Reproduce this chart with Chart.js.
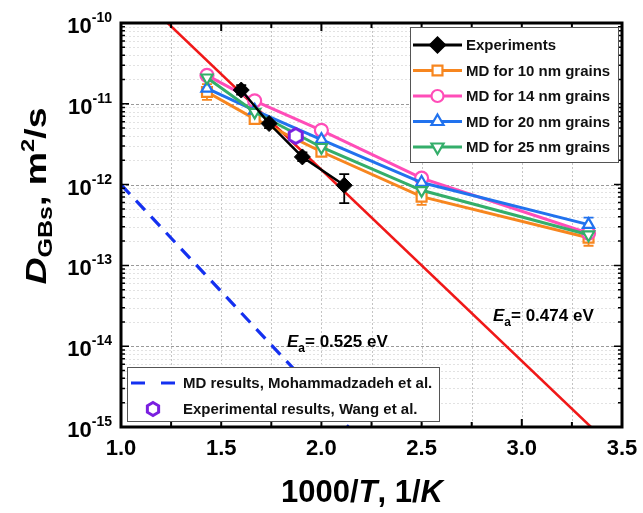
<!DOCTYPE html>
<html>
<head>
<meta charset="utf-8">
<script src="https://cdn.jsdelivr.net/npm/chart.js@4.4.0/dist/chart.umd.min.js"></script>
<style>
html, body { margin: 0; padding: 0; background: #fff; }
</style>
</head>
<body>
<canvas id="chart" width="643" height="513"></canvas>
<script>
// 1000/T values for MD runs (700, 600, 500, 400, 300 K)
const xMD = [1.429, 1.667, 2.0, 2.5, 3.333];
const md10 = [1.4e-11, 6.5e-12, 2.55e-12, 7.1e-13, 2.2e-13];
const md14 = [2.25e-11, 1.09e-11, 4.7e-12, 1.2e-12, 2.5e-13];
const md20 = [1.55e-11, 8.3e-12, 3.6e-12, 1.06e-12, 3.2e-13];
const md25 = [2.1e-11, 7.9e-12, 2.9e-12, 8.5e-13, 2.4e-13];
const md10Err = [[1.12e-11, 1.75e-11], null, null, [5.6e-13, 9.0e-13], [1.75e-13, 2.7e-13]];
const md20Err = [null, null, null, null, [2.6e-13, 3.9e-13]];

// experiments
const xExp = [1.6, 1.739, 1.905, 2.114];
const expD = [1.48e-11, 5.7e-12, 2.2e-12, 9.8e-13];
const expErr = [[1.3e-11, 1.7e-11], [5.0e-12, 6.5e-12], [1.95e-12, 2.5e-12], [5.9e-13, 1.35e-12]];

// Wang et al.
const xWang = [1.872];
const wangD = [4.0e-12];

// Arrhenius fits
const xFit474 = [1.233, 3.345];
const fit474 = [1e-10, 1e-15];
const xFit525 = [1.0, 2.134];
const fit525 = [1e-12, 1e-15];

// axis ticks
const xTickLabels = [1.0, 1.5, 2.0, 2.5, 3.0, 3.5];
const xMinorStep = 0.25;
const yDecades = [-15, -14, -13, -12, -11, -10];

const C_ORANGE = '#F7861F';
const C_PINK = '#FF4DB8';
const C_BLUE = '#2172EE';
const C_GREEN = '#34AE6A';
const C_PURPLE = '#7A1FE0';
const C_RED = '#F01818';
const C_DASH = '#1430F0';

function pts(xs, ys) {
    return xs.map((x, i) => ({ x: x, y: ys[i] }));
}

function hexCanvas(color, r, lw) {
    const c = document.createElement('canvas');
    const s = Math.ceil(2 * r + lw + 2);
    c.width = s; c.height = s;
    const g = c.getContext('2d');
    g.strokeStyle = color;
    g.lineWidth = lw;
    g.fillStyle = '#fff';
    g.beginPath();
    for (let i = 0; i < 6; i++) {
        const a = -Math.PI / 2 + i * Math.PI / 3;
        const px = s / 2 + r * Math.cos(a), py = s / 2 + r * Math.sin(a);
        if (i === 0) g.moveTo(px, py); else g.lineTo(px, py);
    }
    g.closePath();
    g.fill();
    g.stroke();
    return c;
}
const hexIcon = hexCanvas(C_PURPLE, 6.5, 3);
const hexPoint = hexCanvas(C_PURPLE, 7.5, 3);

function mdSet(label, ys, color, style, rot) {
    return {
        label: label,
        data: pts(xMD, ys),
        borderColor: color,
        backgroundColor: '#fff',
        borderWidth: 3,
        pointStyle: style,
        rotation: rot || 0,
        pointRadius: style === 'rect' ? 7 : 6.5,
        pointBorderWidth: 2.2,
        pointBorderColor: color,
        pointBackgroundColor: '#fff'
    };
}

// draw a run of text pieces with own fonts / offsets
function drawRuns(ctx, runs, x, y, align) {
    let w = 0;
    runs.forEach(r => { ctx.font = r.font; w += ctx.measureText(r.t).width; });
    let cx = align === 'center' ? x - w / 2 : (align === 'right' ? x - w : x);
    runs.forEach(r => {
        ctx.font = r.font;
        ctx.fillText(r.t, cx, y + (r.dy || 0));
        cx += ctx.measureText(r.t).width;
    });
    return w;
}

function drawMarker(ctx, style, x, y, r, color, fill) {
    ctx.save();
    ctx.strokeStyle = color;
    ctx.fillStyle = fill;
    ctx.lineWidth = 2.2;
    ctx.setLineDash([]);
    ctx.beginPath();
    if (style === 'rect') {
        const s = r * Math.SQRT1_2;
        ctx.rect(x - s, y - s, 2 * s, 2 * s);
    } else if (style === 'rectRot') {
        ctx.moveTo(x, y - r); ctx.lineTo(x + r, y); ctx.lineTo(x, y + r); ctx.lineTo(x - r, y);
        ctx.closePath();
    } else if (style === 'circle') {
        ctx.arc(x, y, r, 0, Math.PI * 2);
    } else if (style === 'triUp' || style === 'triDown') {
        const k = style === 'triUp' ? 1 : -1;
        ctx.moveTo(x, y - k * r);
        ctx.lineTo(x + r * 0.866, y + k * r * 0.5);
        ctx.lineTo(x - r * 0.866, y + k * r * 0.5);
        ctx.closePath();
    }
    ctx.fill();
    ctx.stroke();
    ctx.restore();
}

const decor = {
    id: 'decor',
    beforeDatasetsDraw(chart) {
        const { ctx, chartArea: a, scales: { x, y } } = chart;
        ctx.save();
        ctx.lineWidth = 1;
        // vertical grid
        ctx.strokeStyle = '#c4c4c4';
        ctx.setLineDash([2, 2]);
        for (let v = 1.0 + xMinorStep; v < 3.5 - 1e-6; v += xMinorStep) {
            const px = Math.round(x.getPixelForValue(v)) + 0.5;
            ctx.beginPath(); ctx.moveTo(px, a.top); ctx.lineTo(px, a.bottom); ctx.stroke();
        }
        // horizontal grid, minor then major
        yDecades.forEach(d => {
            for (let m = 2; m <= 9; m++) {
                if (d === yDecades[yDecades.length - 1]) break;
                const py = Math.round(y.getPixelForValue(m * Math.pow(10, d))) + 0.5;
                ctx.strokeStyle = '#e2e2e2';
                ctx.setLineDash([2, 2]);
                ctx.beginPath(); ctx.moveTo(a.left, py); ctx.lineTo(a.right, py); ctx.stroke();
            }
        });
        yDecades.forEach(d => {
            const py = Math.round(y.getPixelForValue(Math.pow(10, d))) + 0.5;
            ctx.strokeStyle = '#9a9a9a';
            ctx.setLineDash([3, 2]);
            ctx.beginPath(); ctx.moveTo(a.left, py); ctx.lineTo(a.right, py); ctx.stroke();
        });
        ctx.setLineDash([]);

        // error bars
        const bars = [
            [xExp, expErr, '#000'],
            [xMD, md10Err, C_ORANGE],
            [xMD, md20Err, C_BLUE]
        ];
        ctx.lineWidth = 1.8;
        bars.forEach(([xs, errs, col]) => {
            ctx.strokeStyle = col;
            errs.forEach((e, i) => {
                if (!e) return;
                const px = x.getPixelForValue(xs[i]);
                const y0 = y.getPixelForValue(e[0]), y1 = y.getPixelForValue(e[1]);
                ctx.beginPath();
                ctx.moveTo(px, y0); ctx.lineTo(px, y1);
                ctx.moveTo(px - 5, y0); ctx.lineTo(px + 5, y0);
                ctx.moveTo(px - 5, y1); ctx.lineTo(px + 5, y1);
                ctx.stroke();
            });
        });
        ctx.restore();
    },
    afterDraw(chart) {
        const { ctx, chartArea: a, scales: { x, y } } = chart;
        ctx.save();
        ctx.fillStyle = '#000';
        ctx.strokeStyle = '#000';
        const F = '"Liberation Sans", Arial, sans-serif';

        // tick marks (inside, all four sides)
        ctx.lineWidth = 2;
        for (let v = 1.0; v <= 3.5 + 1e-6; v += xMinorStep) {
            const px = x.getPixelForValue(v);
            const major = Math.abs(v * 2 - Math.round(v * 2)) < 1e-6;
            const len = major ? 8 : 5;
            ctx.beginPath();
            ctx.moveTo(px, a.bottom); ctx.lineTo(px, a.bottom - len);
            ctx.moveTo(px, a.top); ctx.lineTo(px, a.top + len);
            ctx.stroke();
        }
        ctx.lineWidth = 1.5;
        yDecades.forEach(d => {
            for (let m = 1; m <= 9; m++) {
                if (d === yDecades[yDecades.length - 1] && m > 1) break;
                const py = y.getPixelForValue(m * Math.pow(10, d));
                const len = m === 1 ? 8 : 4;
                ctx.beginPath();
                ctx.moveTo(a.left, py); ctx.lineTo(a.left + len, py);
                ctx.moveTo(a.right, py); ctx.lineTo(a.right - len, py);
                ctx.stroke();
            }
        });

        // frame
        ctx.lineWidth = 3;
        ctx.strokeRect(a.left, a.top, a.right - a.left, a.bottom - a.top);

        // x tick labels
        ctx.textBaseline = 'alphabetic';
        ctx.font = 'bold 22px ' + F;
        ctx.textAlign = 'center';
        xTickLabels.forEach(v => {
            ctx.fillText(v.toFixed(1), x.getPixelForValue(v), a.bottom + 28);
        });
        ctx.textAlign = 'left';

        // y tick labels 10^n
        yDecades.forEach(d => {
            const py = y.getPixelForValue(Math.pow(10, d));
            ctx.font = 'bold 14px ' + F;
            const supW = ctx.measureText(String(d)).width;
            ctx.font = 'bold 22px ' + F;
            const tenW = ctx.measureText('10').width;
            const xEnd = 112;
            ctx.fillText('10', xEnd - supW - tenW, py + 10);
            ctx.font = 'bold 14px ' + F;
            ctx.fillText(String(d), xEnd - supW, py - 1);
        });

        // x title
        drawRuns(ctx, [
            { t: '1000/', font: 'bold 31px ' + F },
            { t: 'T', font: 'italic bold 31px ' + F },
            { t: ', 1/', font: 'bold 31px ' + F },
            { t: 'K', font: 'italic bold 31px ' + F }
        ], 362, 502, 'center');

        // y title (rotated)
        ctx.save();
        ctx.translate(46, 196);
        ctx.rotate(-Math.PI / 2);
        ctx.scale(1.25, 1);
        drawRuns(ctx, [
            { t: 'D', font: 'italic bold 30px ' + F },
            { t: 'GBs', font: 'bold 20px ' + F, dy: 6 },
            { t: ', m', font: 'bold 30px ' + F },
            { t: '2', font: 'bold 19px ' + F, dy: -12 },
            { t: '/s', font: 'bold 30px ' + F }
        ], 0, 0, 'center');
        ctx.restore();

        // activation energy labels
        const ea = (txt, px, py) => drawRuns(ctx, [
            { t: 'E', font: 'italic bold 17px ' + F },
            { t: 'a', font: 'bold 12px ' + F, dy: 5 },
            { t: '= ' + txt + ' eV', font: 'bold 17px ' + F }
        ], px, py, 'left');
        ea('0.525', 287, 347);
        ea('0.474', 493, 321);

        // upper legend
        ctx.fillStyle = '#fff';
        ctx.fillRect(410.5, 27.5, 208, 135);
        ctx.lineWidth = 1;
        ctx.strokeStyle = '#555';
        ctx.strokeRect(410.5, 27.5, 208, 135);
        const leg = [
            ['Experiments', '#000', 'rectRot', '#000', 7.5],
            ['MD for 10 nm grains', C_ORANGE, 'rect', '#fff', 7],
            ['MD for 14 nm grains', C_PINK, 'circle', '#fff', 6],
            ['MD for 20 nm grains', C_BLUE, 'triUp', '#fff', 7],
            ['MD for 25 nm grains', C_GREEN, 'triDown', '#fff', 7]
        ];
        leg.forEach((e, i) => {
            const ly = 45 + i * 25.5;
            ctx.strokeStyle = e[1];
            ctx.lineWidth = 3;
            ctx.beginPath(); ctx.moveTo(413, ly); ctx.lineTo(462, ly); ctx.stroke();
            drawMarker(ctx, e[2], 437.5, ly, e[4], e[1], e[3]);
            ctx.fillStyle = '#111';
            ctx.font = 'bold 15px ' + F;
            ctx.textBaseline = 'middle';
            ctx.fillText(e[0], 466, ly + 1);
        });

        // lower legend
        ctx.fillStyle = '#fff';
        ctx.fillRect(127.5, 367.5, 312, 54);
        ctx.lineWidth = 1;
        ctx.strokeStyle = '#555';
        ctx.strokeRect(127.5, 367.5, 312, 54);
        ctx.strokeStyle = C_DASH;
        ctx.lineWidth = 3;
        ctx.setLineDash([14, 16]);
        ctx.beginPath(); ctx.moveTo(131, 383); ctx.lineTo(175, 383); ctx.stroke();
        ctx.setLineDash([]);
        ctx.drawImage(hexIcon, 153 - hexIcon.width / 2, 409 - hexIcon.height / 2);
        ctx.fillStyle = '#111';
        ctx.font = 'bold 15px ' + F;
        ctx.fillText('MD results, Mohammadzadeh et al.', 183, 384);
        ctx.fillText('Experimental results, Wang et al.', 183, 410);

        ctx.restore();
    }
};

new Chart(document.getElementById('chart'), {
    type: 'line',
    data: {
        datasets: [
            {
                label: 'Experiments',
                data: pts(xExp, expD),
                borderColor: '#000',
                backgroundColor: '#000',
                borderWidth: 2.5,
                pointStyle: 'rectRot',
                pointRadius: 8,
                pointBorderWidth: 1
            },
            {
                label: 'Experimental results, Wang et al.',
                data: pts(xWang, wangD),
                showLine: false,
                pointStyle: hexPoint
            },
            mdSet('MD for 25 nm grains', md25, C_GREEN, 'triangle', 180),
            mdSet('MD for 20 nm grains', md20, C_BLUE, 'triangle', 0),
            mdSet('MD for 14 nm grains', md14, C_PINK, 'circle', 0),
            mdSet('MD for 10 nm grains', md10, C_ORANGE, 'rect', 0),
            {
                label: 'Ea = 0.474 eV',
                data: pts(xFit474, fit474),
                borderColor: C_RED,
                borderWidth: 2.5,
                pointRadius: 0
            },
            {
                label: 'MD results, Mohammadzadeh et al.',
                data: pts(xFit525, fit525),
                borderColor: C_DASH,
                borderWidth: 3.2,
                borderDash: [13, 9],
                pointRadius: 0
            }
        ]
    },
    options: {
        responsive: false,
        animation: false,
        devicePixelRatio: 1,
        layout: { padding: { left: 0, top: 23, right: 21, bottom: 0 } },
        plugins: {
            legend: { display: false },
            tooltip: { enabled: false }
        },
        scales: {
            x: {
                type: 'linear',
                min: 1.0,
                max: 3.5,
                grid: { display: false },
                border: { display: false },
                ticks: { display: false },
                afterFit: s => { s.height = 86; }
            },
            y: {
                type: 'logarithmic',
                min: 1e-15,
                max: 1e-10,
                grid: { display: false },
                border: { display: false },
                ticks: { display: false },
                afterFit: s => { s.width = 121; }
            }
        }
    },
    plugins: [decor]
});
</script>
</body>
</html>
